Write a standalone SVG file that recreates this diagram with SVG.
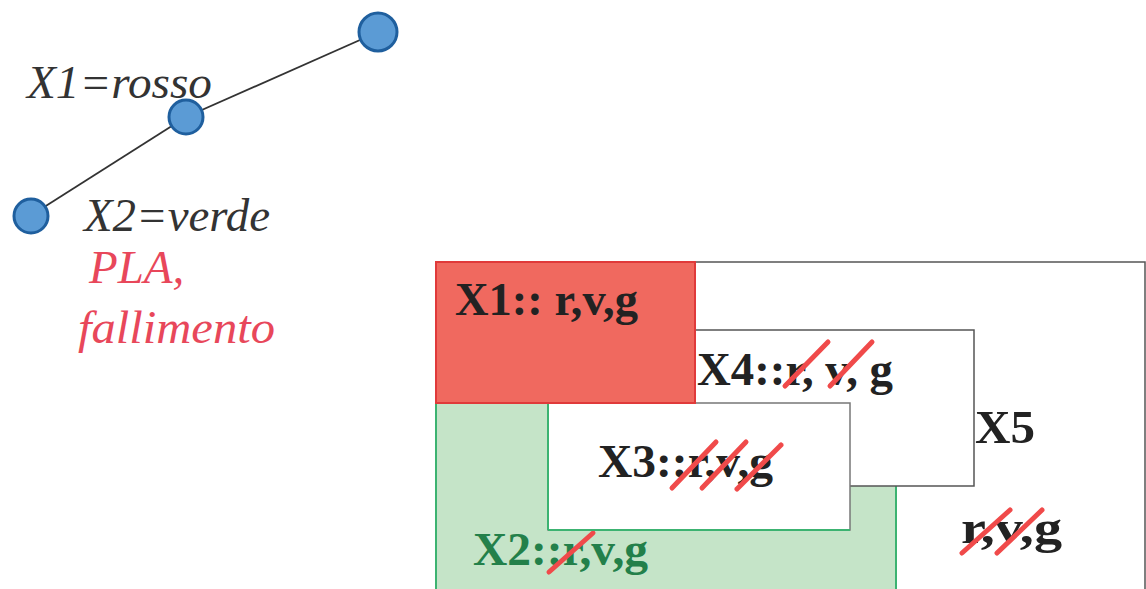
<svg xmlns="http://www.w3.org/2000/svg" width="1146" height="589" viewBox="0 0 1146 589">
<defs>
<style>
.it{font-family:'Liberation Serif','DejaVu Serif',serif;font-style:italic;font-size:47px}
.bd{font-family:'Liberation Serif','DejaVu Serif',serif;font-weight:bold;font-size:47px;fill:#222}
.node{fill:#5b9bd5;stroke:#1f5f9e;stroke-width:3}
.slash{stroke:#f04a4a;stroke-width:5;stroke-linecap:round}
.edge{stroke:#333;stroke-width:1.8;fill:none}
</style>
</defs>
<rect width="1146" height="589" fill="#fff"/>
<g id="connectors">
<line class="edge" x1="378" y1="32" x2="186" y2="117"/>
<line class="edge" x1="186" y1="117" x2="30" y2="216"/>
</g>
<g id="n1"><circle class="node" cx="378" cy="32" r="19"/></g>
<g id="n2"><circle class="node" cx="186" cy="117" r="17"/></g>
<g id="n3"><circle class="node" cx="31" cy="216" r="17"/></g>
<g id="labels-left">
<text class="it" x="27" y="98" fill="#333" textLength="185" lengthAdjust="spacingAndGlyphs">X1=rosso</text>
<text class="it" x="84" y="231" fill="#333" textLength="186" lengthAdjust="spacingAndGlyphs">X2=verde</text>
<text class="it" x="89" y="283" fill="#e8475a">PLA,</text>
<text class="it" x="78" y="343" fill="#e8475a" textLength="197" lengthAdjust="spacingAndGlyphs">fallimento</text>
</g>
<g id="X5">
<rect x="436" y="262" width="709" height="330" fill="#fff" stroke="#555" stroke-width="1.5"/>
<text class="bd" x="975" y="443" textLength="60" lengthAdjust="spacingAndGlyphs">X5</text>
<text class="bd" x="961" y="543" textLength="101" lengthAdjust="spacingAndGlyphs">r,v,g</text>
<line class="slash" x1="962" y1="553" x2="1010" y2="510"/>
<line class="slash" x1="997" y1="553" x2="1042" y2="510"/>
</g>
<g id="X2">
<rect x="436" y="403" width="460" height="189" fill="#c5e4c8" stroke="#3cb371" stroke-width="2"/>
<text class="bd" x="473" y="565" style="fill:#23804a" textLength="175" lengthAdjust="spacingAndGlyphs">X2::r,v,g</text>
<line class="slash" x1="549" y1="572" x2="593" y2="533"/>
</g>
<g id="X4">
<rect x="695" y="330" width="279" height="156" fill="#fff" stroke="#555" stroke-width="1.5"/>
<text class="bd" x="697" y="385" textLength="196" lengthAdjust="spacingAndGlyphs">X4::r, v, g</text>
<line class="slash" x1="785" y1="386" x2="828" y2="342"/>
<line class="slash" x1="830" y1="386" x2="872" y2="342"/>
</g>
<g id="X3">
<rect x="548" y="403" width="302" height="127" fill="#fff" stroke="#777" stroke-width="1.5"/>
<line x1="548" y1="403" x2="548" y2="530" stroke="#3cb371" stroke-width="2"/>
<line x1="548" y1="530" x2="850" y2="530" stroke="#3cb371" stroke-width="2"/>
<text class="bd" x="598" y="477" textLength="175" lengthAdjust="spacingAndGlyphs">X3::r,v,g</text>
<line class="slash" x1="672" y1="488" x2="716" y2="442"/>
<line class="slash" x1="702" y1="488" x2="746" y2="442"/>
<line class="slash" x1="737" y1="489" x2="781" y2="445"/>
</g>
<g id="X1">
<rect x="436" y="262" width="259" height="141" fill="#f0695f" stroke="#e03a3a" stroke-width="2"/>
<text class="bd" x="455" y="315" textLength="183" lengthAdjust="spacingAndGlyphs">X1:: r,v,g</text>
</g>
</svg>
